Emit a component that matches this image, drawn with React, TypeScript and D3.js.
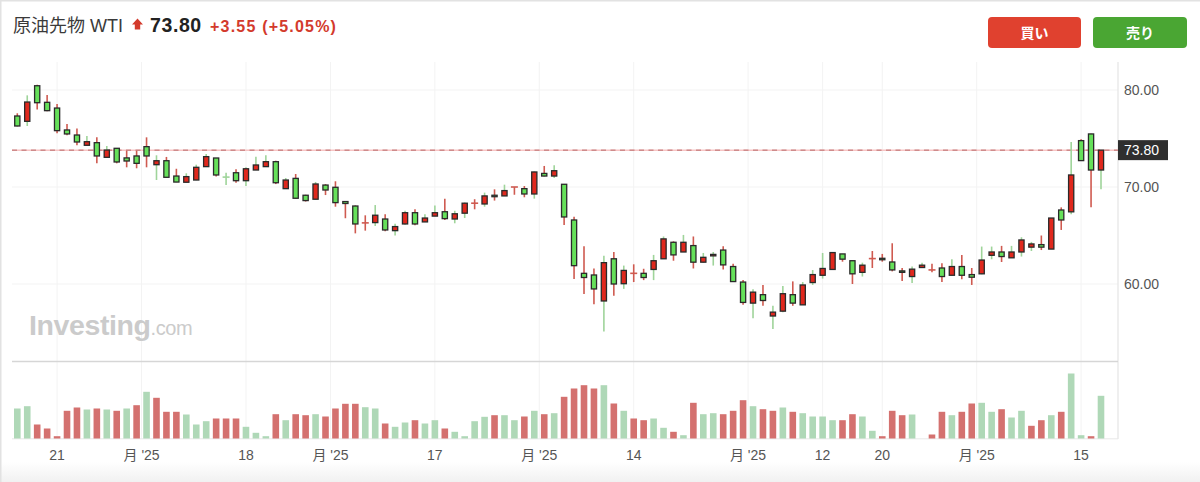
import * as d3 from "d3";

// daily WTI candles (index 0 = oldest)
const opens = [
  77.32, 76.77, 80.44, 78.73, 78.14, 75.88, 75.36, 74.3, 74.57, 73.06,
  73.99, 73.0, 73.2, 74.16, 72.3, 72.71, 71.13, 70.49, 70.72, 72.1,
  72.99, 71.0, 71.47, 70.65, 71.75, 72.1, 72.61, 69.83, 70.89, 69.15,
  68.74, 70.2, 69.97, 68.5, 68.04, 66.3, 66.33, 66.7, 65.5, 66.19,
  67.35, 66.4, 67.0, 67.45, 66.7, 67.3, 68.33, 68.25, 69.15, 69.08,
  70.0, 69.83, 69.28, 71.4, 71.13, 70.28, 66.6, 61.1, 60.93, 58.25,
  62.6, 60.03, 61.1, 61.1, 61.5, 62.6, 64.3, 63.3, 63.96, 62.25,
  62.9, 63.5, 61.8, 60.2, 58.03, 58.9, 56.7, 57.2, 58.9, 57.85,
  60.15, 60.9, 61.5, 63.1, 62.4, 61.2, 62.62, 62.65, 62.27, 61.35,
  60.77, 61.7, 61.45, 61.65, 60.9, 61.8, 60.97, 61.05, 62.96, 63.3,
  62.7, 63.3, 63.8, 64.06, 63.6, 67.63, 67.44, 74.78, 75.47, 71.75,
];
const highs = [
  77.6, 79.45, 80.55, 79.48, 78.56, 76.5, 76.02, 75.26, 75.12, 74.23,
  74.0, 73.74, 73.74, 75.12, 73.27, 73.1, 71.88, 71.41, 72.3, 73.4,
  73.0, 71.47, 71.82, 72.03, 73.13, 73.27, 72.71, 70.93, 71.34, 69.2,
  70.52, 70.3, 70.59, 68.5, 68.1, 67.08, 68.14, 67.2, 66.2, 67.55,
  67.7, 67.2, 68.1, 68.8, 67.55, 68.4, 68.74, 69.42, 69.76, 70.24,
  70.0, 70.1, 71.6, 72.17, 72.24, 70.28, 66.94, 63.88, 61.6, 62.9,
  63.3, 61.9, 62.03, 61.57, 63.0, 64.9, 64.4, 65.06, 64.9, 63.2,
  63.3, 63.88, 62.1, 60.4, 59.47, 59.9, 57.75, 59.8, 60.27, 60.2,
  61.44, 63.2, 63.3, 63.1, 62.4, 62.2, 63.4, 63.1, 64.2, 61.66,
  61.8, 62.2, 62.1, 62.13, 62.55, 63.0, 61.65, 63.86, 63.86, 63.93,
  63.93, 64.82, 64.34, 65.0, 66.8, 67.9, 74.64, 74.92, 75.5, 73.8,
];
const lows = [
  76.25, 76.29, 78.0, 77.8, 75.54, 75.33, 74.3, 74.3, 72.44, 73.06,
  72.44, 72.03, 71.93, 72.03, 70.72, 71.0, 70.5, 70.49, 70.7, 72.1,
  71.07, 70.21, 70.44, 70.1, 71.75, 72.1, 70.3, 69.8, 68.8, 68.5,
  68.7, 69.17, 67.97, 66.78, 65.22, 65.5, 65.98, 65.43, 65.0, 66.1,
  66.05, 66.4, 67.0, 66.6, 66.26, 66.8, 67.7, 67.97, 68.6, 69.08,
  69.2, 68.94, 68.8, 71.1, 70.93, 66.08, 60.52, 58.96, 57.9, 55.1,
  58.8, 59.5, 60.2, 60.4, 60.4, 62.6, 62.4, 63.3, 61.6, 62.2,
  61.9, 61.5, 60.2, 57.85, 56.48, 57.75, 55.35, 57.1, 57.75, 57.85,
  59.9, 60.56, 61.5, 62.3, 60.0, 60.77, 61.65, 62.3, 61.3, 60.3,
  60.1, 61.7, 61.2, 60.2, 60.9, 60.5, 59.9, 61.0, 62.55, 62.27,
  62.7, 62.83, 63.4, 63.5, 63.6, 65.57, 67.2, 72.7, 67.9, 69.77,
];
const closes = [
  76.29, 78.76, 78.69, 77.87, 75.81, 75.47, 74.64, 74.67, 73.2, 73.81,
  72.58, 72.68, 72.44, 73.2, 72.71, 71.0, 70.51, 71.07, 72.03, 73.13,
  71.24, 71.02, 70.65, 71.88, 72.27, 72.61, 70.44, 70.72, 68.84, 68.6,
  70.31, 69.69, 68.39, 68.3, 66.19, 66.28, 67.09, 65.57, 65.92, 67.35,
  66.19, 66.8, 67.35, 66.74, 67.24, 68.33, 68.31, 69.08, 69.0, 69.63,
  69.98, 69.28, 71.55, 71.13, 71.68, 66.91, 61.89, 60.67, 59.49, 62.2,
  60.0, 61.4, 61.08, 60.67, 62.4, 64.65, 63.0, 64.3, 62.25, 62.75,
  63.05, 61.97, 60.25, 58.1, 59.16, 58.3, 57.1, 59.0, 58.03, 59.9,
  60.97, 61.6, 63.24, 62.56, 61.05, 61.94, 62.6, 62.5, 61.45, 61.2,
  61.53, 61.94, 61.43, 60.77, 61.8, 60.9, 60.7, 62.47, 63.3, 62.83,
  63.3, 64.54, 64.13, 63.8, 66.8, 66.6, 71.24, 72.72, 71.75, 73.8,
];
// relative volume (no scale shown in the chart)
const volumes = [
  30, 32.3, 14, 10, 2.3, 27.7, 31, 29, 30, 29,
  27.7, 30, 33.3, 46.7, 40.7, 26.7, 26.7, 24, 14, 17.3,
  20, 20, 20, 11.7, 5.7, 2.3, 24.3, 18.3, 24.3, 23.3,
  24.3, 22, 30, 34.7, 34.7, 31.3, 30, 15, 11.7, 16,
  18.3, 15, 18.3, 10, 6.7, 2.3, 17.3, 21.7, 23.3, 23.3,
  18.3, 22, 27.7, 24.3, 25.3, 41.7, 50, 53.3, 50, 53.3,
  35, 27.7, 20, 18.3, 20, 10.7, 6.7, 3.3, 35.7, 24.3,
  25.3, 24.3, 27.7, 38.3, 32.3, 29.3, 27.7, 31, 26.7, 25.3,
  22, 22, 18.3, 18.3, 24.3, 22, 7.7, 2.3, 27.7, 23.3,
  24, 0, 4, 26.7, 23.3, 26.7, 35, 35.7, 26.7, 29.3,
  21, 27.7, 12.7, 18.3, 23.3, 26.7, 65, 3.3, 2.3, 42.7,
];
// u = volume bar drawn green, d = red
const volumeDirs = [
  "u","u","d","d","d","d","d","u","d","u",
  "d","u","d","u","d","d","d","u","u","u",
  "d","d","d","u","u","u","d","u","d","d",
  "u","d","d","d","d","u","u","d","u","u",
  "d","u","u","d","u","u","u","u","d","u",
  "u","d","u","d","u","d","d","d","d","u",
  "d","u","d","d","u","u","d","u","d","u",
  "u","d","d","d","u","d","d","u","d","u",
  "u","u","u","d","d","u","u","d","d","d",
  "u","u","d","d","u","d","d","u","u","d",
  "u","u","d","d","u","d","u","u","d","u",
];

const dayTicks = [
  { at: 4, label: "21" },
  { at: 12.5, label: "月 '25" },
  { at: 23, label: "18" },
  { at: 31.5, label: "月 '25" },
  { at: 42, label: "17" },
  { at: 52.5, label: "月 '25" },
  { at: 62, label: "14" },
  { at: 73.5, label: "月 '25" },
  { at: 81, label: "12" },
  { at: 87, label: "20" },
  { at: 96.5, label: "月 '25" },
  { at: 107, label: "15" },
];
const priceTicks = [60, 70, 80];
const lastPrice = 73.8;

const W = 1200;
const H = 482;
const plotLeft = 12;
const plotRight = 1118;

const bodyGreen = "#66e05a";
const bodyRed = "#e0281d";
const wickGreen = "#9fd49a";
const wickRed = "#cf5a50";
const volGreen = "#afd8b7";
const volRed = "#d4716f";
const font = "'Liberation Sans', 'Noto Sans CJK JP', sans-serif";

const App = () => {
  const n = closes.length;
  const x = d3.scaleLinear().domain([0, n - 1]).range([17.3, 1101]);
  const y = d3.scaleLinear().domain([60, 80]).range([284, 90]);
  const v = d3.scaleLinear().domain([0, 65]).range([438.5, 373.5]);
  const fmt = d3.format(".2f");

  return (
    <svg
      width={W}
      height={H}
      style={{ position: "absolute", left: 0, top: 0, display: "block" }}
      fontFamily={font}
    >
      <defs>
        <linearGradient id="foot" x1="0" y1="0" x2="0" y2="1">
          <stop offset="0" stopColor="#ffffff" />
          <stop offset="1" stopColor="#f1f1f1" />
        </linearGradient>
      </defs>
      <rect x={0} y={0} width={W} height={H} fill="#fff" />
      <rect x={0} y={462} width={W} height={20} fill="url(#foot)" />
      <rect x={0.75} y={0.75} width={W + 4} height={H + 4} fill="none" stroke="#e2e2e2" strokeWidth={1.5} />

      {/* header */}
      <text x={13} y={32} fontSize={18} fill="#3a3a3a">原油先物 WTI</text>
      <path d="M137.5,18.5 L143,24.5 L140.2,24.5 L140.2,29.5 L134.8,29.5 L134.8,24.5 L132,24.5 Z" fill="#d33a2c" />
      <text x={150} y={32} fontSize={19.5} fontWeight={700} fill="#222" letterSpacing={0.6}>73.80</text>
      <text x={210} y={31.5} fontSize={16} fontWeight={700} fill="#d33a2c" letterSpacing={1.2}>+3.55 (+5.05%)</text>

      <rect x={988} y={17} width={93} height={31} rx={4} fill="#e0412f" />
      <text x={1034.5} y={37.5} fontSize={14} fontWeight={700} fill="#fff" textAnchor="middle">買い</text>
      <rect x={1093} y={17} width={94} height={31} rx={4} fill="#4aa633" />
      <text x={1140} y={37.5} fontSize={14} fontWeight={700} fill="#fff" textAnchor="middle">売り</text>

      {/* grid */}
      {priceTicks.map((p) => (
        <line key={p} x1={plotLeft} x2={plotRight} y1={y(p)} y2={y(p)} stroke="#f3f3f3" />
      ))}
      {dayTicks.map((t) => (
        <line key={t.at} x1={x(t.at)} x2={x(t.at)} y1={62} y2={438.5} stroke="#f3f3f3" />
      ))}
      <line x1={plotRight} x2={plotRight} y1={62} y2={439} stroke="#e4e4e4" strokeWidth={1.2} />
      <line x1={plotLeft} x2={plotRight} y1={361.5} y2={361.5} stroke="#d6d6d6" strokeWidth={1.5} />
      <line x1={plotLeft} x2={plotRight} y1={438.8} y2={438.8} stroke="#e8e8e8" />

      {/* watermark */}
      <text x={29} y={335} fontSize={28.5} fontWeight={700} fill="#cbcbcb" letterSpacing={-0.4}>
        Investing<tspan fontSize={20} fontWeight={400}>.com</tspan>
      </text>

      {/* last price line */}
      <line x1={plotLeft} x2={plotRight} y1={y(lastPrice)} y2={y(lastPrice)} stroke="#f7c4c4" strokeWidth={1.5} />
      <line x1={plotLeft} x2={plotRight} y1={y(lastPrice)} y2={y(lastPrice)} stroke="#b86a6a" strokeWidth={1} strokeDasharray="5,4.5" />

      {/* volume */}
      {volumes.map((d, i) =>
        d > 0 ? (
          <rect
            key={i}
            x={x(i) - 3.3}
            y={v(d)}
            width={6.6}
            height={v(0) - v(d)}
            fill={volumeDirs[i] === "u" ? volGreen : volRed}
          />
        ) : null
      )}

      {/* candles */}
      {closes.map((c, i) => {
        const o = opens[i];
        const up = c > o;
        const wick = up ? wickGreen : wickRed;
        const cx = x(i);
        const cross = Math.abs(c - o) < 0.05;
        const top = y(Math.max(o, c));
        const bot = y(Math.min(o, c));
        return (
          <g key={i}>
            <line x1={cx} x2={cx} y1={y(highs[i])} y2={y(lows[i])} stroke={wick} strokeWidth={1.6} />
            {cross ? (
              <line x1={cx - 3.5} x2={cx + 3.5} y1={top} y2={top} stroke={wick} strokeWidth={1.6} />
            ) : (
              <rect
                x={cx - 2.6}
                y={top}
                width={5.2}
                height={Math.max(bot - top, 1)}
                fill={up ? bodyRed : bodyGreen}
                stroke="#2a2a2a"
                strokeWidth={1.3}
              />
            )}
          </g>
        );
      })}

      {/* price axis */}
      {priceTicks.map((p) => (
        <text key={p} x={1124} y={y(p) + 5} fontSize={14} fill="#555">{fmt(p)}</text>
      ))}
      <rect x={1118} y={y(lastPrice) - 10} width={50} height={20} fill="#2f2f2f" />
      <text x={1124} y={y(lastPrice) + 5} fontSize={14} fill="#fff">{fmt(lastPrice)}</text>

      {/* time axis */}
      {dayTicks.map((t) => (
        <text key={t.at} x={x(t.at)} y={460} fontSize={14} fill="#555" textAnchor="middle">{t.label}</text>
      ))}
    </svg>
  );
};

export default App;
